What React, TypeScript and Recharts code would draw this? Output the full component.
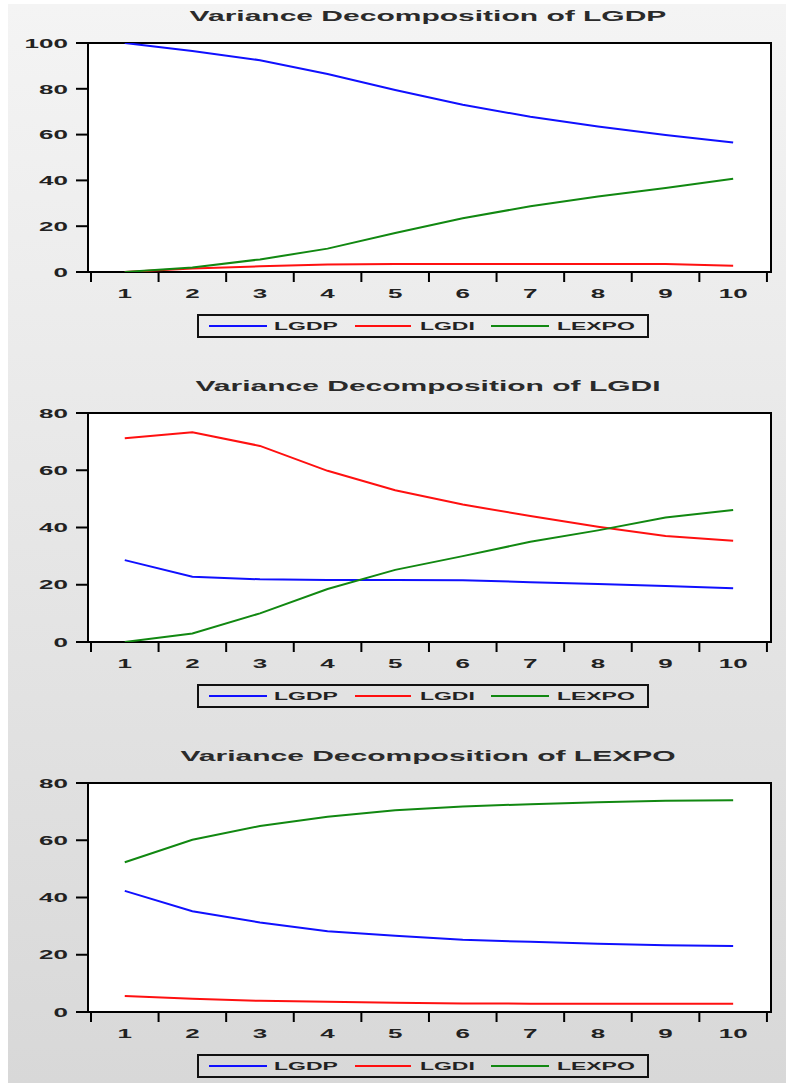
import { LineChart, Line, XAxis, YAxis, CartesianGrid, ReferenceArea, Legend } from "recharts";

const periods = [1, 2, 3, 4, 5, 6, 7, 8, 9, 10];
const xTickValues = [0.5, 1, 1.5, 2, 2.5, 3, 3.5, 4, 4.5, 5, 5.5, 6, 6.5, 7, 7.5, 8, 8.5, 9, 9.5, 10, 10.5];
const xDomain = [0.456, 10.56];
const seriesOrder = ["LGDP", "LGDI", "LEXPO"];

// Variance decomposition of LGDP
const gdpLGDP = [100, 96.5, 92.5, 86.5, 79.5, 73, 67.8, 63.5, 59.8, 56.6];
const gdpLGDI = [0, 1.5, 2.5, 3.3, 3.5, 3.5, 3.5, 3.5, 3.5, 2.7];
const gdpLEXPO = [0, 2, 5.5, 10.2, 17, 23.5, 28.7, 33, 36.7, 40.7];

// Variance decomposition of LGDI
const gdiLGDP = [28.6, 22.8, 21.9, 21.7, 21.7, 21.6, 20.9, 20.3, 19.6, 18.8];
const gdiLGDI = [71.2, 73.3, 68.5, 59.8, 53, 48, 44, 40.3, 37, 35.4];
const gdiLEXPO = [0, 3, 10, 18.5, 25.2, 30, 35, 39, 43.5, 46.1];

// Variance decomposition of LEXPO
const expoLGDP = [42.3, 35.2, 31.3, 28.2, 26.6, 25.2, 24.5, 23.8, 23.3, 23.1];
const expoLGDI = [5.6, 4.6, 3.9, 3.6, 3.2, 3.0, 2.9, 2.9, 2.9, 2.9];
const expoLEXPO = [52.3, 60.2, 65, 68.2, 70.5, 71.8, 72.6, 73.3, 73.8, 74];

const ticks100 = [0, 20, 40, 60, 80, 100];
const ticks80 = [0, 20, 40, 60, 80];

const FONT = '"Liberation Sans", Arial, sans-serif';
const TEXT = "#222";

const toRows = (a: number[], b: number[], c: number[]) =>
  periods.map((p, i) => ({ period: p, LGDP: a[i], LGDI: b[i], LEXPO: c[i] }));

const XTick = (props: any) => {
  const { x, y, payload } = props;
  const v = payload.value;
  if (Number.isInteger(v)) {
    return (
      <g transform={`translate(${x},${y + 21}) scale(2,1)`}>
        <text textAnchor="middle" dominantBaseline="central" fontSize={13} fontWeight="bold" fontFamily={FONT} fill={TEXT}>
          {v}
        </text>
      </g>
    );
  }
  return <line x1={x} x2={x} y1={y} y2={y + 10} stroke="#000" strokeWidth={2} />;
};

const YTick = (props: any) => {
  const { x, y, payload } = props;
  return (
    <g transform={`translate(${x},${y}) scale(2,1)`}>
      <text textAnchor="end" dominantBaseline="central" fontSize={13} fontWeight="bold" fontFamily={FONT} fill={TEXT}>
        {payload.value}
      </text>
    </g>
  );
};

const LegendBox = (props: any) => {
  const items = [...(props.payload || [])].sort(
    (a: any, b: any) => seriesOrder.indexOf(a.value) - seriesOrder.indexOf(b.value)
  );
  return (
    <div
      style={{
        transform: "scaleX(2)",
        transformOrigin: "left top",
        height: 20,
        borderTop: "2px solid #111",
        borderBottom: "2px solid #111",
        borderLeft: "1px solid #111",
        borderRight: "1px solid #111",
        display: "flex",
        alignItems: "center",
        paddingLeft: 5,
        paddingRight: 6.5,
        fontFamily: FONT,
        fontSize: 11.5,
        fontWeight: "bold",
        color: TEXT,
        whiteSpace: "nowrap",
      }}
    >
      {items.map((entry: any, i: number) => (
        <div key={entry.value} style={{ display: "flex", alignItems: "center", marginRight: i < items.length - 1 ? 8.5 : 0 }}>
          <span style={{ display: "inline-block", width: 28.5, height: 2, background: entry.color, marginRight: 4 }} />
          <span>{entry.value}</span>
        </div>
      ))}
    </div>
  );
};

type PanelProps = { top: number; title: string; yMax: number; yTicks: number[]; data: any[] };

const Panel = ({ top, title, yMax, yTicks, data }: PanelProps) => (
  <div style={{ position: "absolute", left: 0, top, width: 786, height: 370 }}>
    <div
      style={{
        position: "absolute",
        left: 428,
        top: 15,
        transform: "translate(-50%, -50%) scaleX(2)",
        whiteSpace: "nowrap",
        fontFamily: FONT,
        fontSize: 15,
        fontWeight: "bold",
        color: "#2a2a2a",
      }}
    >
      {title}
    </div>
    <LineChart width={786} height={370} data={data} margin={{ top: 43, right: 15, bottom: 0, left: 0 }}>
      <CartesianGrid horizontal={false} vertical={false} fill="#fff" />
      <XAxis
        dataKey="period"
        type="number"
        domain={xDomain}
        ticks={xTickValues}
        interval={0}
        allowDataOverflow
        tickLine={false}
        axisLine={false}
        tickSize={0}
        tickMargin={0}
        height={98}
        tick={<XTick />}
      />
      <YAxis
        type="number"
        domain={[0, yMax]}
        ticks={yTicks}
        interval={0}
        width={88}
        axisLine={false}
        tickSize={12}
        tickMargin={8}
        tickLine={{ stroke: "#000", strokeWidth: 2 }}
        tick={<YTick />}
        allowDataOverflow
      />
      <ReferenceArea x1={xDomain[0]} x2={xDomain[1]} y1={0} y2={yMax} fill="none" stroke="#000" strokeWidth={2} />
      <Line dataKey="LGDP" name="LGDP" stroke="#1010ff" strokeWidth={2} dot={false} isAnimationActive={false} />
      <Line dataKey="LGDI" name="LGDI" stroke="#ff1010" strokeWidth={2} dot={false} isAnimationActive={false} />
      <Line dataKey="LEXPO" name="LEXPO" stroke="#118811" strokeWidth={2} dot={false} isAnimationActive={false} />
      <Legend
        layout="vertical"
        align="center"
        verticalAlign="middle"
        content={<LegendBox />}
        wrapperStyle={{ position: "absolute", left: 197, top: 314, width: "auto", height: "auto" }}
      />
    </LineChart>
  </div>
);

export default function App() {
  return (
    <div style={{ position: "absolute", left: 0, top: 0, width: 786, height: 1083, background: "#fff", overflow: "hidden" }}>
      <div
        style={{
          position: "absolute",
          left: 8,
          top: 4,
          right: 0,
          bottom: 0,
          background: "linear-gradient(#f4f4f4, #d8d8d8)",
        }}
      />
      <Panel top={0} title="Variance Decomposition of LGDP" yMax={100} yTicks={ticks100} data={toRows(gdpLGDP, gdpLGDI, gdpLEXPO)} />
      <Panel top={370} title="Variance Decomposition of LGDI" yMax={80} yTicks={ticks80} data={toRows(gdiLGDP, gdiLGDI, gdiLEXPO)} />
      <Panel top={740} title="Variance Decomposition of LEXPO" yMax={80} yTicks={ticks80} data={toRows(expoLGDP, expoLGDI, expoLEXPO)} />
    </div>
  );
}
